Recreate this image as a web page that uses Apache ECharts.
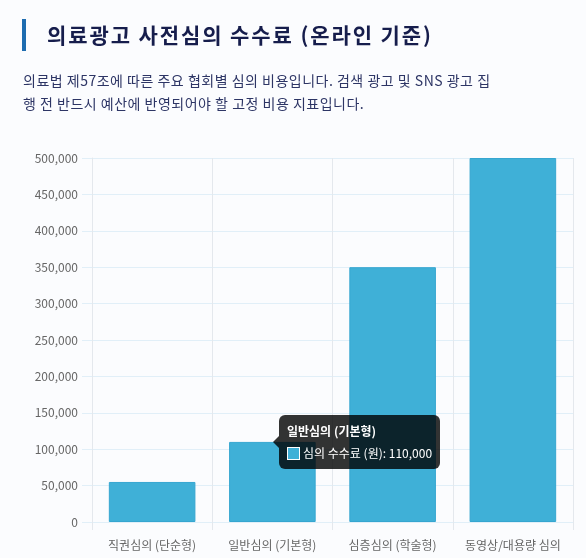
<!DOCTYPE html>
<html>
<head>
<meta charset="utf-8">
<script src="https://cdn.jsdelivr.net/npm/echarts@6/dist/echarts.min.js"></script>
<style>
  html, body { margin: 0; padding: 0; background: #fbfcfe; }
  #wrap { position: relative; width: 586px; height: 558px; font-family: "Noto Sans CJK KR", "Noto Sans", sans-serif; }
  #main { position: absolute; left: 0; top: 0; width: 586px; height: 558px; }
  .head-bar { position: absolute; left: 22px; top: 19px; width: 4px; height: 32px; background: #1e6cb0; }
  .head-title { position: absolute; left: 47px; top: 20px; font-size: 21px; line-height: 28px; font-weight: bold;
    color: #161d4c; letter-spacing: 1.9px; white-space: nowrap; z-index: 2; }
  .head-sub { position: absolute; left: 23px; top: 69px; font-size: 14px; line-height: 22.5px;
    color: #2d3565; letter-spacing: 0.5px; white-space: nowrap; z-index: 2; }
  .fee-tip::before {
    content: '';
    position: absolute;
    left: -6px;
    top: 50%;
    margin-top: -6px;
    border-top: 6px solid transparent;
    border-bottom: 6px solid transparent;
    border-right: 6px solid rgba(0, 0, 0, 0.8);
  }
</style>
</head>
<body>
<div id="wrap">
  <div id="main"></div>
  <div class="head-bar"></div>
  <div class="head-title">의료광고 사전심의 수수료 (온라인 기준)</div>
  <div class="head-sub">의료법 제57조에 따른 주요 협회별 심의 비용입니다. 검색 광고 및 SNS 광고 집<br>행 전 반드시 예산에 반영되어야 할 고정 비용 지표입니다.</div>
</div>
<script>
// 심의 구분
var categories = ['직권심의 (단순형)', '일반심의 (기본형)', '심층심의 (학술형)', '동영상/대용량 심의'];
// 심의 수수료 (원)
var fees = [55000, 110000, 350000, 500000];
var seriesName = '심의 수수료 (원)';
var yTicks = [0, 50000, 100000, 150000, 200000, 250000, 300000, 350000, 400000, 450000, 500000];

var FONT = '"Noto Sans CJK KR", "Noto Sans", sans-serif';
var BAR = '#3fb0d7';

var chart = echarts.init(document.getElementById('main'), null, { renderer: 'canvas' });

var option = {
  backgroundColor: '#fbfcfe',
  animation: false,
  textStyle: { fontFamily: FONT },
  tooltip: {
    trigger: 'item',
    className: 'fee-tip',
    transitionDuration: 0,
    backgroundColor: 'rgba(0,0,0,0.8)',
    borderWidth: 0,
    padding: [7, 8],
    extraCssText: 'border-radius:6px;box-shadow:none;',
    textStyle: { color: '#fff', fontSize: 12, fontFamily: FONT },
    position: function (point, params, dom, rect, size) {
      return [279, 415];
    },
    formatter: function (p) {
      return '<div style="font-weight:bold;margin-bottom:4px;">' + p.name + '</div>' +
        '<span style="display:inline-block;width:11px;height:11px;background:' + BAR +
        ';border:1px solid #fff;vertical-align:-2px;margin-right:3px;"></span>' +
        p.seriesName + ': ' + p.value.toLocaleString('en-US');
    }
  },
  grid: { left: 92, right: 13, top: 158, bottom: 36 },
  xAxis: {
    type: 'category',
    data: categories,
    boundaryGap: true,
    axisLine: { show: true, lineStyle: { color: '#e1eff8', width: 1 } },
    axisTick: { show: true, length: 8, lineStyle: { color: '#e4e8ed' } },
    splitLine: { show: true, lineStyle: { color: '#e4e8ed', width: 1 } },
    axisLabel: { color: '#666', fontSize: 12, margin: 17, interval: 0, fontFamily: FONT }
  },
  yAxis: {
    type: 'value',
    min: yTicks[0],
    max: yTicks[yTicks.length - 1],
    interval: yTicks[1] - yTicks[0],
    axisLine: { show: true, lineStyle: { color: '#e4e8ed' } },
    axisTick: { show: true, length: 10, lineStyle: { color: '#e1eff8' } },
    splitLine: { show: true, lineStyle: { color: '#e1eff8', width: 1 } },
    axisLabel: {
      color: '#666', fontSize: 12, margin: 14, fontFamily: FONT,
      formatter: function (v) { return v.toLocaleString('en-US'); }
    }
  },
  series: [{
    name: seriesName,
    type: 'bar',
    data: fees,
    barWidth: '72%',
    itemStyle: { color: BAR, borderColor: '#36a6d0', borderWidth: 1 },
    emphasis: { disabled: true }
  }]
};

chart.setOption(option);
chart.dispatchAction({ type: 'showTip', seriesIndex: 0, dataIndex: 1 });
</script>
</body>
</html>
